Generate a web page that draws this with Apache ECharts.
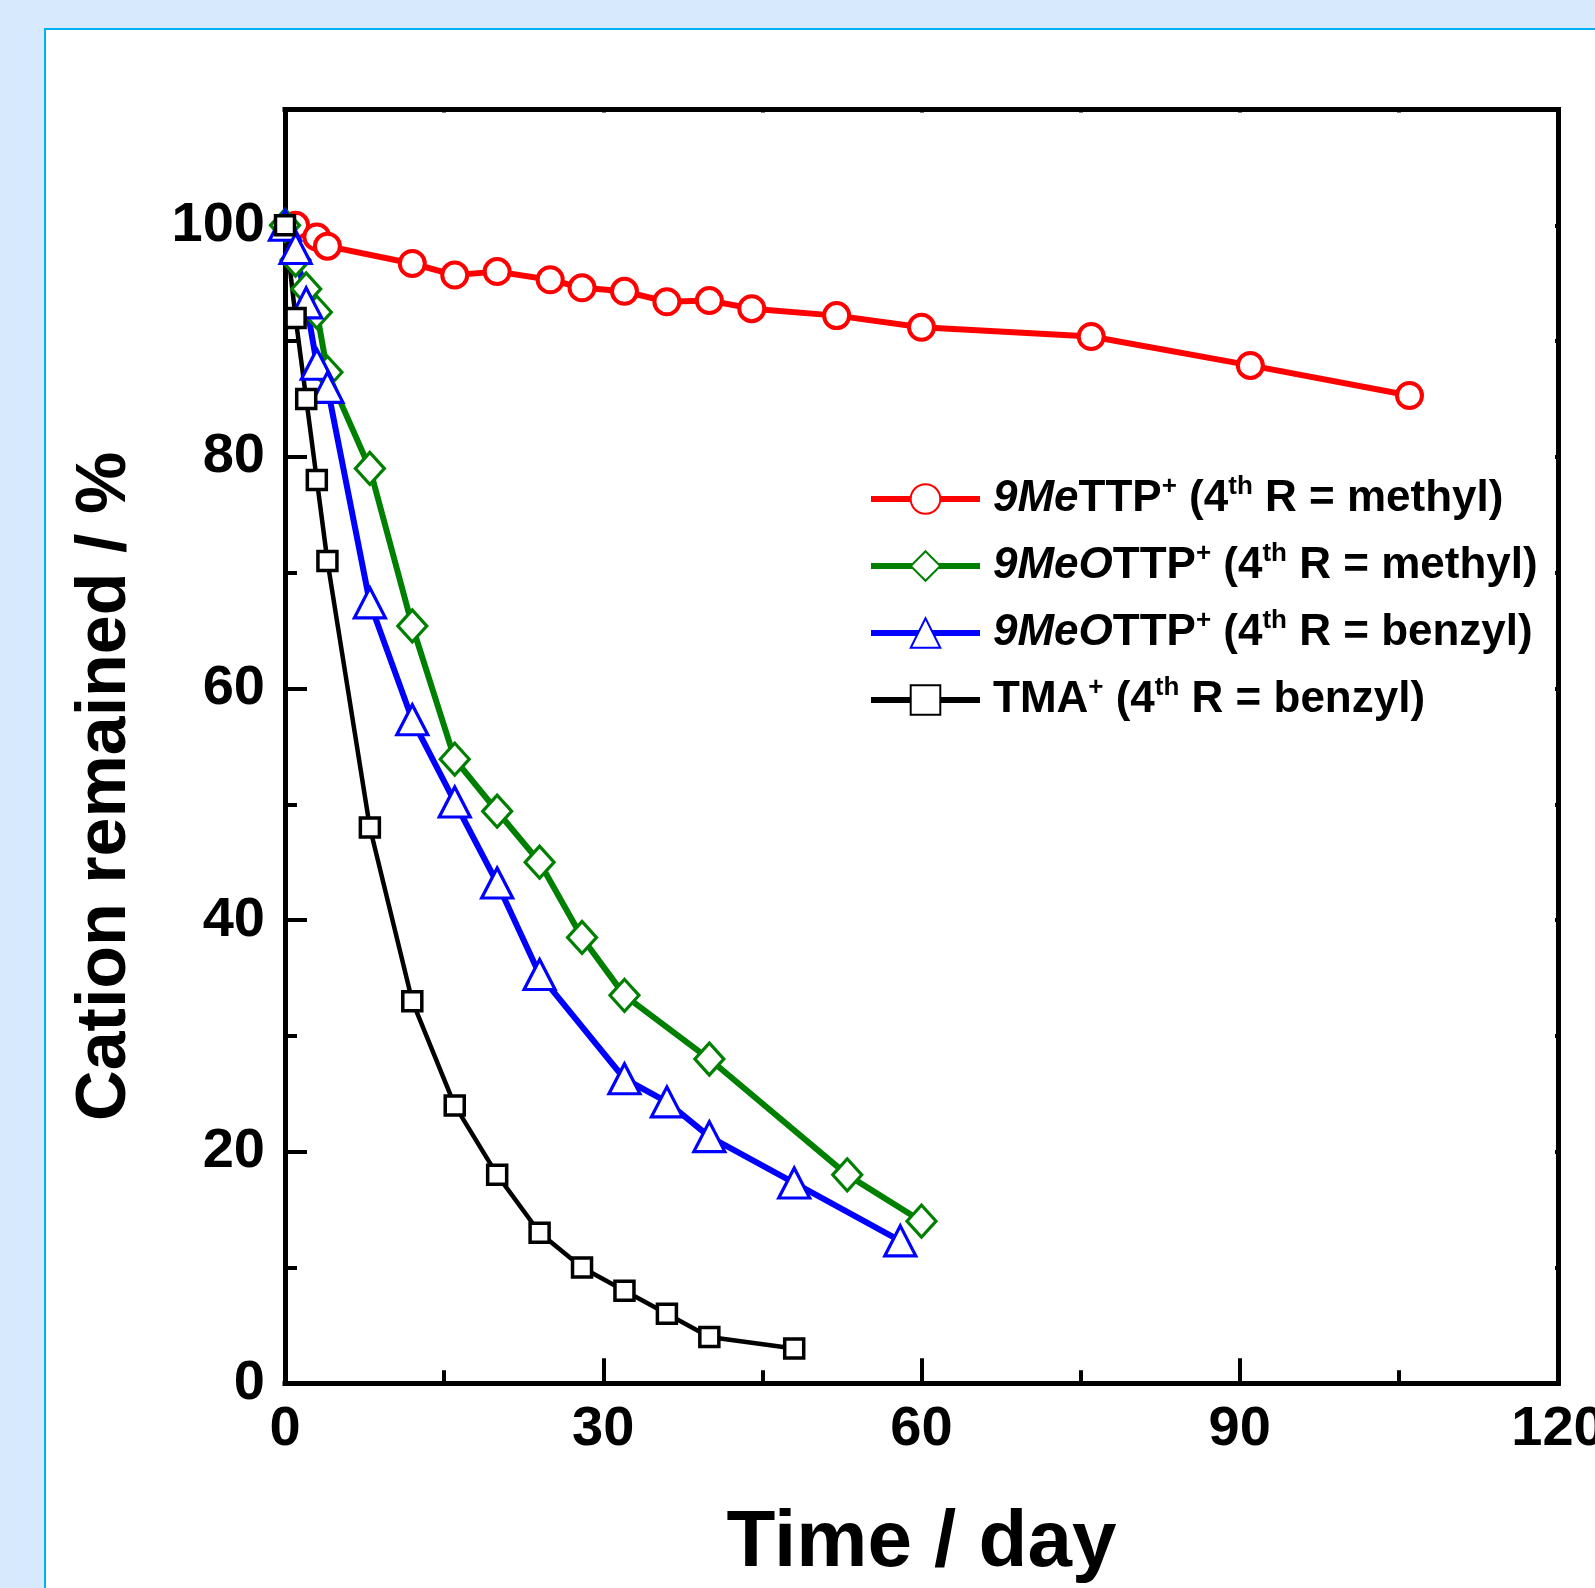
<!DOCTYPE html>
<html><head><meta charset="utf-8">
<script src="https://cdn.jsdelivr.net/npm/echarts@6/dist/echarts.min.js"></script>
<style>
html,body{margin:0;padding:0;width:1595px;height:1588px;overflow:hidden;background:#d6e9fd;}
#panel{position:absolute;left:44px;top:28px;right:0;bottom:0;background:#fff;border-left:2px solid #00b0f0;border-top:2px solid #00b0f0;}
#chart{position:absolute;left:0;top:0;width:1595px;height:1588px;}
</style></head><body><div id="panel"></div><div id="chart"></div>
<script>
const seriesNames = ['9MeTTP+ (4th R = methyl)', '9MeOTTP+ (4th R = methyl)', '9MeOTTP+ (4th R = benzyl)', 'TMA+ (4th R = benzyl)'];
const legendRich = [
  '{it|9Me}{n|TTP}{sup|+}{n| (4}{sup|th}{n| R = methyl)}',
  '{it|9MeO}{n|TTP}{sup|+}{n| (4}{sup|th}{n| R = methyl)}',
  '{it|9MeO}{n|TTP}{sup|+}{n| (4}{sup|th}{n| R = benzyl)}',
  '{n|TMA}{sup|+}{n| (4}{sup|th}{n| R = benzyl)}'
];
const colors = ['#ff0000', '#008000', '#0000ff', '#000000'];

const daysMeTTP = [1, 3, 4, 12, 16, 20, 25, 28, 32, 36, 40, 44, 52, 60, 76, 91, 106];
const valsMeTTP = [100, 99, 98.2, 96.7, 95.7, 96.0, 95.3, 94.6, 94.3, 93.4, 93.5, 92.8, 92.2, 91.2, 90.4, 87.9, 85.3];

const daysMeOMethyl = [0, 1, 2, 3, 4, 8, 12, 16, 20, 24, 28, 32, 40, 53, 60];
const valsMeOMethyl = [100, 97, 94.5, 92.5, 87.3, 79, 65.4, 53.9, 49.4, 45, 38.5, 33.5, 28, 18, 14];

const daysMeOBenzyl = [0, 1, 2, 3, 4, 8, 12, 16, 20, 24, 32, 36, 40, 48, 58];
const valsMeOBenzyl = [100, 98, 93.3, 88, 86, 67.4, 57.3, 50.2, 43.2, 35.3, 26.3, 24.3, 21.3, 17.3, 12.3];

const daysTMA = [0, 1, 2, 3, 4, 8, 12, 16, 20, 24, 28, 32, 36, 40, 48];
const valsTMA = [100, 92, 85, 78, 71, 48, 33, 24, 18, 13, 10, 8, 6, 4, 3];

const xTicks = [0, 30, 60, 90, 120];
const yTicks = [0, 20, 40, 60, 80, 100];

const FONT = "'Liberation Sans',Arial,sans-serif";
const pair = (d, v) => d.map((x, i) => [x, v[i]]);

const symbols = ['circle', 'diamond', 'triangle', 'rect'];
const symSizes = [25, [29, 32], [31, 30], 19];
const borderW = [4, 3.2, 3.2, 3.5];
const lineW = [6, 6, 6, 4.5];
const dataSets = [
  pair(daysMeTTP, valsMeTTP),
  pair(daysMeOMethyl, valsMeOMethyl),
  pair(daysMeOBenzyl, valsMeOBenzyl),
  pair(daysTMA, valsTMA)
];

const chart = echarts.init(document.getElementById('chart'), null, {renderer: 'canvas'});
const axisLineStyle = {color: '#000', width: 5, cap: 'square'};
const tickStyle = {color: '#000', width: 4};

chart.setOption({
  animation: false,
  backgroundColor: 'transparent',
  grid: {left: 285, right: 37, top: 109.5, bottom: 204.7, containLabel: false, outerBoundsMode: 'none'},
  legend: {
    orient: 'vertical', left: 868, top: 474, padding: 0,
    itemWidth: 109, itemHeight: 37, itemGap: 17,
    lineStyle: {width: 6},
    data: seriesNames,
    formatter: name => legendRich[seriesNames.indexOf(name)],
    textStyle: {
      fontSize: 44, fontWeight: 'bold', color: '#000', fontFamily: FONT, lineHeight: 50,
      padding: [0, 0, 0, 8],
      rich: {
        it: {fontSize: 44, fontWeight: 'bold', fontStyle: 'italic', fontFamily: FONT, lineHeight: 50, color: '#000'},
        n: {fontSize: 44, fontWeight: 'bold', fontFamily: FONT, lineHeight: 50, color: '#000'},
        sup: {fontSize: 26, fontWeight: 'bold', fontFamily: FONT, lineHeight: 20, verticalAlign: 'top', color: '#000'}
      }
    }
  },
  xAxis: [
    {
      type: 'value', min: 0, max: 120, interval: 30, position: 'bottom',
      axisLine: {show: true, onZero: false, lineStyle: axisLineStyle},
      axisTick: {show: true, inside: true, length: 25, lineStyle: tickStyle},
      minorTick: {show: true, splitNumber: 2, length: 13, lineStyle: tickStyle},
      splitLine: {show: false}, minorSplitLine: {show: false},
      axisLabel: {
        fontSize: 56, fontWeight: 'bold', color: '#000', fontFamily: FONT, margin: 18,
        formatter: v => (xTicks.indexOf(v) >= 0 ? String(v) : '')
      },
      name: 'Time / day', nameLocation: 'middle', nameGap: 121,
      nameTextStyle: {fontSize: 80, fontWeight: 'bold', color: '#000', fontFamily: FONT}
    },
    {
      type: 'value', min: 0, max: 120, interval: 15, position: 'top',
      axisLine: {show: true, onZero: false, lineStyle: axisLineStyle},
      axisTick: {show: true, inside: true, length: 3, lineStyle: tickStyle},
      axisLabel: {show: false}, splitLine: {show: false}
    }
  ],
  yAxis: [
    {
      type: 'value', min: 0, max: 110, interval: 20, position: 'left',
      axisLine: {show: true, onZero: false, lineStyle: axisLineStyle},
      axisTick: {show: true, inside: true, length: 22, lineStyle: tickStyle},
      splitLine: {show: false},
      axisLabel: {
        fontSize: 56, fontWeight: 'bold', color: '#000', fontFamily: FONT, margin: 20,
        verticalAlign: 'middle', padding: [0, 0, 16, 0],
        formatter: v => (yTicks.indexOf(v) >= 0 ? String(v) : '')
      },
      name: 'Cation remained / %', nameLocation: 'middle', nameGap: 144,
      nameTextStyle: {fontSize: 70, fontWeight: 'bold', color: '#000', fontFamily: FONT, padding: [0, 80, 0, 0]}
    },
    {
      type: 'value', min: 0, max: 110, interval: 10, position: 'left',
      axisLine: {show: false},
      axisTick: {show: true, inside: true, length: 12, lineStyle: tickStyle},
      axisLabel: {show: false}, splitLine: {show: false}
    },
    {
      type: 'value', min: 0, max: 110, interval: 10, position: 'right',
      axisLine: {show: true, onZero: false, lineStyle: axisLineStyle},
      axisTick: {show: true, inside: true, length: 3, lineStyle: tickStyle},
      axisLabel: {show: false}, splitLine: {show: false}
    }
  ],
  series: seriesNames.map((name, i) => ({
    name: name, type: 'line', xAxisIndex: 0, yAxisIndex: 0,
    data: dataSets[i],
    color: colors[i],
    symbol: symbols[i], symbolSize: symSizes[i], showSymbol: true,
    lineStyle: {color: colors[i], width: lineW[i]},
    itemStyle: {color: '#ffffff', borderColor: colors[i], borderWidth: borderW[i]},
    emphasis: {disabled: true},
    clip: false
  }))
});
</script></body></html>
